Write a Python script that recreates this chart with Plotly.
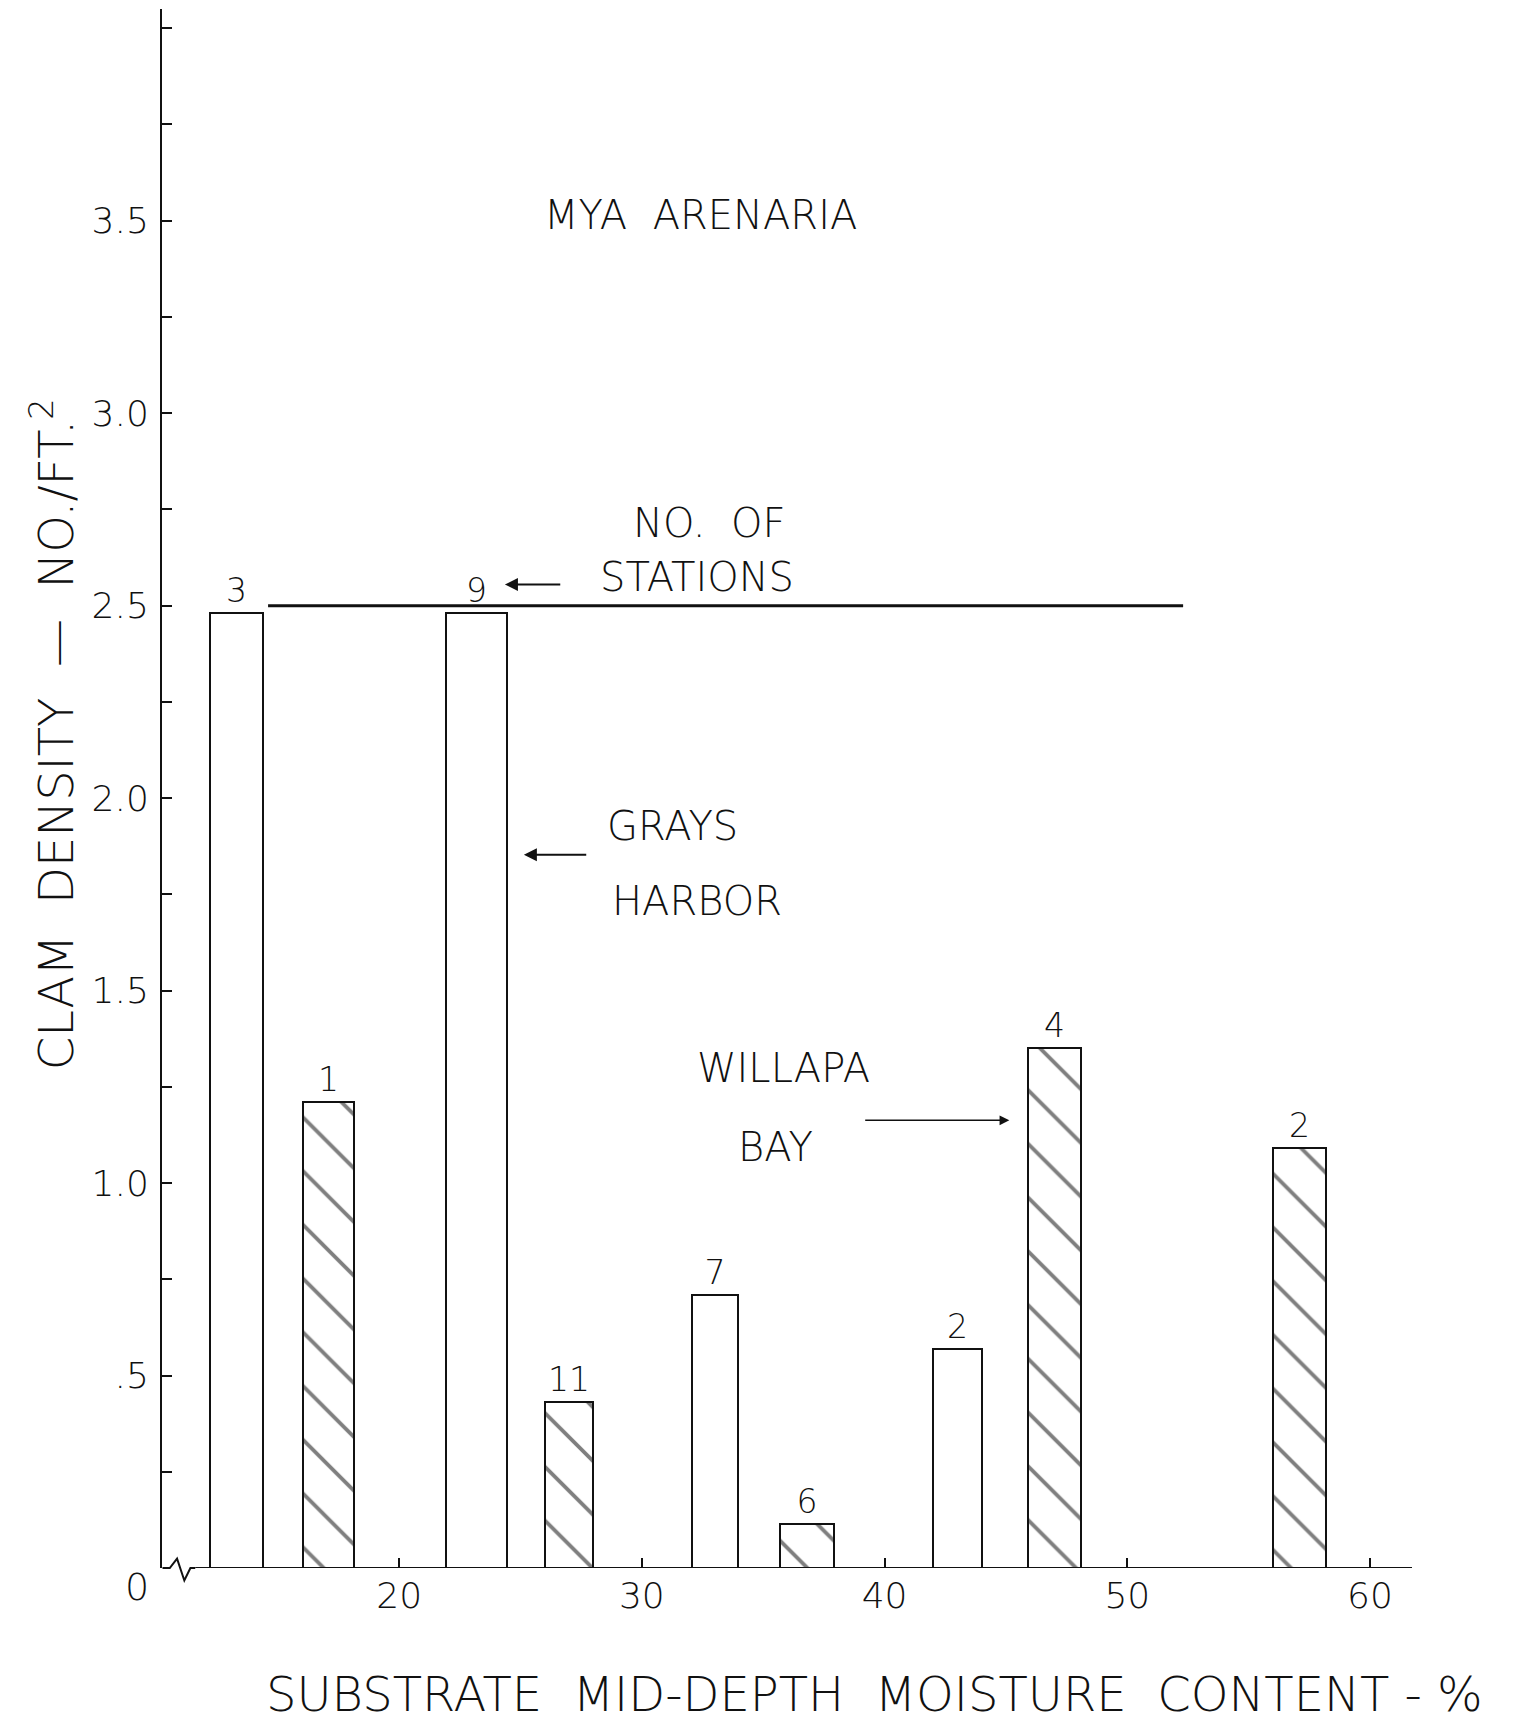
import plotly.graph_objects as go

# ---- data ----
bar_centers = [13.3, 17.1, 23.2, 27.0, 33.0, 36.8, 43.0, 47.0, 57.1]
bar_widths = [2.2, 2.1, 2.5, 2.0, 1.9, 2.2, 2.0, 2.15, 2.2]
bar_density = [2.48, 1.21, 2.48, 0.43, 0.71, 0.115, 0.57, 1.35, 1.09]
bar_stations = ["3", "1", "9", "11", "7", "6", "2", "4", "2"]
bar_location = ["Grays Harbor", "Willapa Bay", "Grays Harbor", "Willapa Bay",
                "Grays Harbor", "Willapa Bay", "Grays Harbor", "Willapa Bay", "Willapa Bay"]

ref_line_y = 2.5
ref_line_x = [14.6, 52.3]

x_ticks = [20, 30, 40, 50, 60]
x_ticklabels = ["20", "30", "40", "50", "60"]
y_ticks = [0.5, 1.0, 1.5, 2.0, 2.5, 3.0, 3.5]
y_ticklabels = [".5", "1.0", "1.5", "2.0", "2.5", "3.0", "3.5"]

X_RANGE = [10.23, 61.73]
Y_RANGE = [0, 4.05]

FONT = "DejaVu Sans"
W = 200
INK = "#111111"

def f(size):
    return dict(family=FONT, size=size, color=INK, weight=W)

fig = go.Figure()

for loc, hatched in [("Grays Harbor", False), ("Willapa Bay", True)]:
    idx = [i for i, l in enumerate(bar_location) if l == loc]
    marker = dict(color="white", line=dict(color=INK, width=2))
    if hatched:
        marker["pattern"] = dict(shape="\\", size=38, solidity=0.1,
                                 fgcolor="#000000", bgcolor="white", fillmode="overlay")
    fig.add_trace(go.Bar(
        x=[bar_centers[i] for i in idx],
        y=[bar_density[i] for i in idx],
        width=[bar_widths[i] for i in idx],
        text=[bar_stations[i] for i in idx],
        textposition="outside",
        textfont=f(33),
        constraintext="none",
        cliponaxis=False,
        marker=marker,
        name=loc,
        showlegend=False,
    ))

# horizontal reference line at 2.5
fig.add_trace(go.Scatter(x=ref_line_x, y=[ref_line_y, ref_line_y], mode="lines",
                         line=dict(color=INK, width=3), showlegend=False, hoverinfo="skip"))

# x axis baseline with break symbol near origin (yref paper so it is not clipped)
fig.add_shape(type="line", xref="x", yref="y", x0=11.6, x1=X_RANGE[1], y0=0, y1=0,
              line=dict(color=INK, width=2))
fig.add_shape(type="path", xref="x", yref="paper",
              path="M 10.25 0 L 10.55 0 L 10.85 0.006 L 11.15 -0.008 L 11.4 0.0 L 11.6 0",
              line=dict(color=INK, width=2))

ann_font = f(40)
annotations = [
    dict(x=32.4, y=3.514, text="MYA  ARENARIA", showarrow=False, font=ann_font),
    dict(x=32.77, y=2.715, text="NO.  OF", showarrow=False, font=ann_font),
    dict(x=32.27, y=2.574, text="STATIONS", showarrow=False, font=ann_font),
    dict(x=31.27, y=1.927, text="GRAYS", showarrow=False, font=ann_font),
    dict(x=32.27, y=1.733, text="HARBOR", showarrow=False, font=ann_font),
    dict(x=35.82, y=1.30, text="WILLAPA", showarrow=False, font=ann_font),
    dict(x=35.5, y=1.094, text="BAY", showarrow=False, font=ann_font),
    # arrows
    dict(x=24.36, y=2.555, ax=26.7, ay=2.555, axref="x", ayref="y", text="",
         showarrow=True, arrowhead=2, arrowsize=1.3, arrowwidth=2, arrowcolor=INK),
    dict(x=25.14, y=1.853, ax=27.77, ay=1.853, axref="x", ayref="y", text="",
         showarrow=True, arrowhead=2, arrowsize=1.3, arrowwidth=2, arrowcolor=INK),
    dict(x=45.14, y=1.163, ax=39.14, ay=1.163, axref="x", ayref="y", text="",
         showarrow=True, arrowhead=2, arrowsize=1.3, arrowwidth=1.5, arrowcolor=INK),
    # origin label
    dict(x=-0.02, y=-0.012, xref="paper", yref="paper", text="0", showarrow=False,
         xanchor="center", yanchor="middle", font=f(38)),
    # axis titles
    dict(x=0.5696, y=-0.081, xref="paper", yref="paper",
         text="SUBSTRATE  MID-DEPTH  MOISTURE  CONTENT - %", showarrow=False,
         xanchor="center", yanchor="middle", font=f(48)),
    dict(x=-0.087, y=0.535, xref="paper", yref="paper",
         text="CLAM  DENSITY  —  NO./FT.<sup>2</sup>", textangle=-90, showarrow=False,
         xanchor="center", yanchor="middle", font=f(48)),
]

fig.update_layout(
    width=1522, height=1729,
    margin=dict(l=154, r=118, t=1, b=169),
    paper_bgcolor="white", plot_bgcolor="white",
    bargap=0,
    annotations=annotations,
    xaxis=dict(range=X_RANGE, tickvals=x_ticks, ticktext=x_ticklabels,
               ticks="inside", ticklen=10, tickwidth=2, tickcolor=INK,
               showline=False, showgrid=False, zeroline=False,
               tickfont=f(36), ticklabelstandoff=3),
    yaxis=dict(range=Y_RANGE, tickvals=y_ticks, ticktext=y_ticklabels,
               ticks="inside", ticklen=10, tickwidth=2, tickcolor=INK,
               minor=dict(dtick=0.25, tick0=0, ticks="inside", ticklen=10,
                          tickwidth=2, tickcolor=INK),
               showline=True, linecolor=INK, linewidth=2,
               showgrid=False, zeroline=False,
               tickfont=f(36), ticklabelstandoff=4),
)

fig.write_html("out.html")
